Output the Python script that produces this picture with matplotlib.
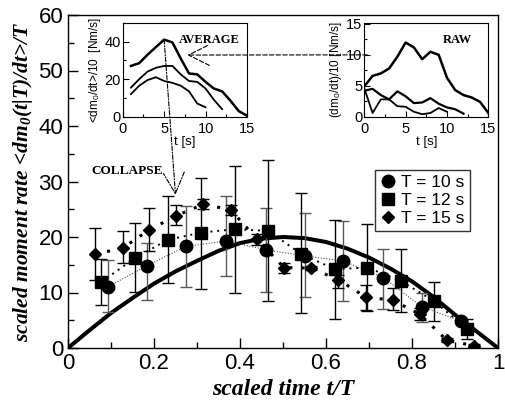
import matplotlib
matplotlib.use("Agg")
import matplotlib.pyplot as plt
from matplotlib.lines import Line2D
from matplotlib.patches import ConnectionPatch
from matplotlib.ticker import MultipleLocator

plt.rcParams['font.family'] = ['Liberation Sans', 'DejaVu Sans']
plt.rcParams['mathtext.fontset'] = 'custom'
plt.rcParams['mathtext.rm'] = 'Liberation Serif:bold:italic'
plt.rcParams['mathtext.it'] = 'Liberation Serif:bold:italic'
plt.rcParams['mathtext.sf'] = 'Liberation Sans'

# collapsed data
t10_x = [0.092, 0.183, 0.274, 0.367, 0.460, 0.550, 0.640, 0.733, 0.823, 0.914]
t10_y = [11.0, 14.8, 18.3, 19.3, 17.7, 16.6, 15.7, 12.7, 7.4, 4.9]
t10_lo = [6.5, 8.6, 11.0, 13.0, 10.1, 9.2, 8.5, 7.1, 4.7, 4.4]
t10_hi = [15.8, 19.0, 25.6, 27.3, 25.2, 24.3, 22.9, 17.8, 9.9, 5.4]

t12_x = [0.077, 0.156, 0.232, 0.310, 0.388, 0.466, 0.543, 0.621, 0.696, 0.774, 0.850, 0.929]
t12_y = [11.9, 16.2, 19.5, 20.8, 21.4, 21.1, 16.9, 14.2, 14.5, 12.1, 8.5, 3.4]
t12_lo = [7.7, 10.1, 11.8, 10.7, 10.0, 8.5, 6.3, 5.2, 6.7, 6.4, 4.9, 1.6]
t12_hi = [16.0, 22.5, 27.3, 30.6, 32.8, 33.9, 27.9, 23.1, 22.3, 17.8, 11.9, 5.2]

t15_x = [0.063, 0.127, 0.189, 0.251, 0.315, 0.378, 0.440, 0.502, 0.565, 0.629,
         0.692, 0.755, 0.818, 0.881, 0.944]
t15_y = [16.9, 18.0, 21.3, 23.8, 25.9, 24.9, 19.6, 14.5, 14.4, 12.3, 9.2, 8.6, 6.1, 1.4, 0.4]
t15_lo = [12.3, 15.3, 17.4, 22.2, 25.0, 24.0, 18.6, 13.5, 14.0, 10.8, 6.8, 6.8, 5.0, 1.0, 0.1]
t15_hi = [21.6, 21.0, 25.3, 25.8, 26.8, 25.8, 20.5, 15.3, 14.8, 13.1, 11.4, 10.8, 7.2, 1.8, 0.7]

# solid reference curve
curve_x = [0, .05, .1, .15, .2, .25, .3, .35, .4, .45, .5, .55, .6, .65, .7, .75, .8, .85, .9, .95, 1]
curve_y = [0, 3.2, 6.3, 9.0, 11.6, 13.8, 15.7, 17.5, 18.9, 19.7, 20.0, 19.8, 19.1, 17.9,
           16.3, 14.3, 12.0, 9.2, 6.0, 3.0, 0]

# inset: averages
avg15_t = list(range(1, 16))
avg15_v = [27, 28.5, 33, 37, 41, 39.5, 31, 23, 22.5, 18.5, 15, 13.5, 8.5, 3, 0.5]
avg12_t = list(range(1, 13))
avg12_v = [15.5, 20, 24, 26, 27, 27, 22.5, 19, 18.5, 15, 9, 4]
avg10_t = list(range(1, 11))
avg10_v = [12, 16.5, 19.5, 21, 19, 18, 16.5, 13.5, 7, 5]

# inset: raw
raw15_t = list(range(0, 16))
raw15_v = [4.9, 6.6, 7.0, 7.8, 9.7, 12.0, 11.2, 9.3, 10.5, 10.0, 6.3, 4.3, 3.5, 3.1, 2.4, 0.6]
raw12_t = list(range(0, 13))
raw12_v = [4.2, 4.5, 3.5, 2.8, 4.1, 3.3, 2.2, 2.3, 3.0, 2.1, 1.5, 1.2, 0.5]
raw10_t = list(range(0, 11))
raw10_v = [4.6, 0.6, 2.8, 2.8, 1.7, 1.6, 0.8, 0.4, 0.6, 1.4, 0.8]

W, H = 505, 409
fig = plt.figure(figsize=(W / 100, H / 100), dpi=100)
ax = fig.add_axes([68 / W, 1 - 348 / H, 430 / W, 333 / H])

serif = dict(family='Liberation Serif', weight='bold', style='italic')


def err(y, lo, hi):
    return [[a - b for a, b in zip(y, lo)], [b - a for a, b in zip(y, hi)]]


ax.plot(curve_x, curve_y, color='black', lw=2.9, zorder=2)

ax.errorbar(t10_x, t10_y, yerr=err(t10_y, t10_lo, t10_hi), fmt='none',
            ecolor='0.35', elinewidth=1, capsize=4, capthick=1, zorder=3)
ax.errorbar(t12_x, t12_y, yerr=err(t12_y, t12_lo, t12_hi), fmt='none',
            ecolor='black', elinewidth=1, capsize=4, capthick=1, zorder=3)
ax.errorbar(t15_x, t15_y, yerr=err(t15_y, t15_lo, t15_hi), fmt='none',
            ecolor='black', elinewidth=1, capsize=4, capthick=1, zorder=3)

ax.plot(t10_x, t10_y, ls=(0, (1, 1.5)), lw=0.8, color='0.3', marker='o',
        ms=9, mfc='black', mec='black', zorder=4)
ax.plot(t12_x, t12_y, ls=(0, (1, 2.5)), lw=1.4, color='black', marker='s',
        ms=8, mfc='black', mec='black', zorder=4)
ax.plot(t15_x, t15_y, ls=(0, (1, 3)), lw=2.2, color='black', marker='D',
        ms=6.5, mfc='black', mec='black', zorder=4)

ax.set_xlim(0, 1)
ax.set_ylim(0, 60)
ax.xaxis.set_minor_locator(MultipleLocator(0.1))
ax.yaxis.set_major_locator(MultipleLocator(10))
ax.yaxis.set_minor_locator(MultipleLocator(5))
ax.set_xticks([0, 0.2, 0.4, 0.6, 0.8, 1.0])
ax.set_xticklabels(['0', '0.2', '0.4', '0.6', '0.8', '1'])
ax.tick_params(which='both', direction='in', labelsize=16)
ax.tick_params(which='major', length=7, width=1)
ax.tick_params(which='minor', length=4, width=1)
for s in ax.spines.values():
    s.set_linewidth(1)

ax.set_xlabel('scaled time t/T', fontsize=17, labelpad=4, **serif)
ax.set_ylabel('scaled moment rate <dm$_0$(t|T)/dt>/T', fontsize=15.5, labelpad=2, **serif)

handles = [Line2D([], [], ls='none', marker='o', ms=9, color='black'),
           Line2D([], [], ls='none', marker='s', ms=8, color='black'),
           Line2D([], [], ls='none', marker='D', ms=6.5, color='black')]
leg = ax.legend(handles, ['T = 10 s', 'T = 12 s', 'T = 15 s'], loc='upper right',
                bbox_to_anchor=(0.935, 0.535), fontsize=12.5, frameon=True,
                fancybox=False, edgecolor='black', handlelength=0.8,
                handletextpad=0.4, borderpad=0.3, labelspacing=0.15,
                borderaxespad=0)
leg.get_frame().set_linewidth(1)

ax.text(0.137, 0.532, 'COLLAPSE', transform=ax.transAxes, ha='center', va='center',
        fontsize=9.5, family='Liberation Serif', weight='bold')

# average inset
ax_avg = fig.add_axes([122.7 / W, 1 - 116.7 / H, 124.3 / W, 94 / H])
ax_avg.plot(avg15_t, avg15_v, color='black', lw=1.8)
ax_avg.plot(avg12_t, avg12_v, color='black', lw=1.3)
ax_avg.plot(avg10_t, avg10_v, color='black', lw=1.3)
ax_avg.set_xlim(0, 15)
ax_avg.set_ylim(0, 50)
ax_avg.xaxis.set_major_locator(MultipleLocator(5))
ax_avg.xaxis.set_minor_locator(MultipleLocator(2.5))
ax_avg.yaxis.set_major_locator(MultipleLocator(20))
ax_avg.yaxis.set_minor_locator(MultipleLocator(10))
ax_avg.set_xlabel('t [s]', fontsize=9.5, labelpad=0)
ax_avg.set_ylabel(r'<dm$_{\mathsf{0}}$/dt>/10  [Nm/s]', fontsize=8.5, labelpad=1)
ax_avg.text(0.7, 0.82, 'AVERAGE', transform=ax_avg.transAxes, ha='center', va='center',
            fontsize=9, family='Liberation Serif', weight='bold')

# raw inset
ax_raw = fig.add_axes([364.3 / W, 1 - 116.7 / H, 124 / W, 94 / H])
ax_raw.plot(raw15_t, raw15_v, color='black', lw=1.8)
ax_raw.plot(raw12_t, raw12_v, color='black', lw=1.6)
ax_raw.plot(raw10_t, raw10_v, color='black', lw=1.3)
ax_raw.set_xlim(0, 15)
ax_raw.set_ylim(0, 15.2)
ax_raw.xaxis.set_major_locator(MultipleLocator(5))
ax_raw.xaxis.set_minor_locator(MultipleLocator(2.5))
ax_raw.yaxis.set_major_locator(MultipleLocator(5))
ax_raw.yaxis.set_minor_locator(MultipleLocator(2.5))
ax_raw.set_xlabel('t [s]', fontsize=9.5, labelpad=0)
ax_raw.set_ylabel(r'(dm$_{\mathsf{0}}$/dt)/10 [Nm/s]', fontsize=8.5, labelpad=1)
ax_raw.text(0.75, 0.82, 'RAW', transform=ax_raw.transAxes, ha='center', va='center',
            fontsize=9, family='Liberation Serif', weight='bold')

for a in (ax_avg, ax_raw):
    a.tick_params(which='both', direction='in', labelsize=10.5)
    a.tick_params(axis='x', pad=3.5)
    a.tick_params(axis='y', pad=1.5)
    a.tick_params(which='major', length=4, width=0.8)
    a.tick_params(which='minor', length=2.5, width=0.8)
    for s in a.spines.values():
        s.set_linewidth(0.8)

# dashed arrows linking the panels
arr1 = ConnectionPatch(xyA=(0.35, 10), coordsA=ax_raw.transData,
                       xyB=(7.8, 32.8), coordsB=ax_avg.transData,
                       arrowstyle='->,head_length=1.0,head_width=0.5', mutation_scale=15,
                       ls=(0, (4, 2)), lw=0.8, color='black', zorder=10)
fig.add_artist(arr1)
arr2 = ConnectionPatch(xyA=(5.0, 41), coordsA=ax_avg.transData,
                       xyB=(0.25, 27.6), coordsB=ax.transData,
                       arrowstyle='->,head_length=1.0,head_width=0.5', mutation_scale=15,
                       ls=(0, (4, 1.5, 1, 1.5)), lw=0.8, color='black', zorder=10)
fig.add_artist(arr2)

fig.savefig('out.png', dpi=100)
